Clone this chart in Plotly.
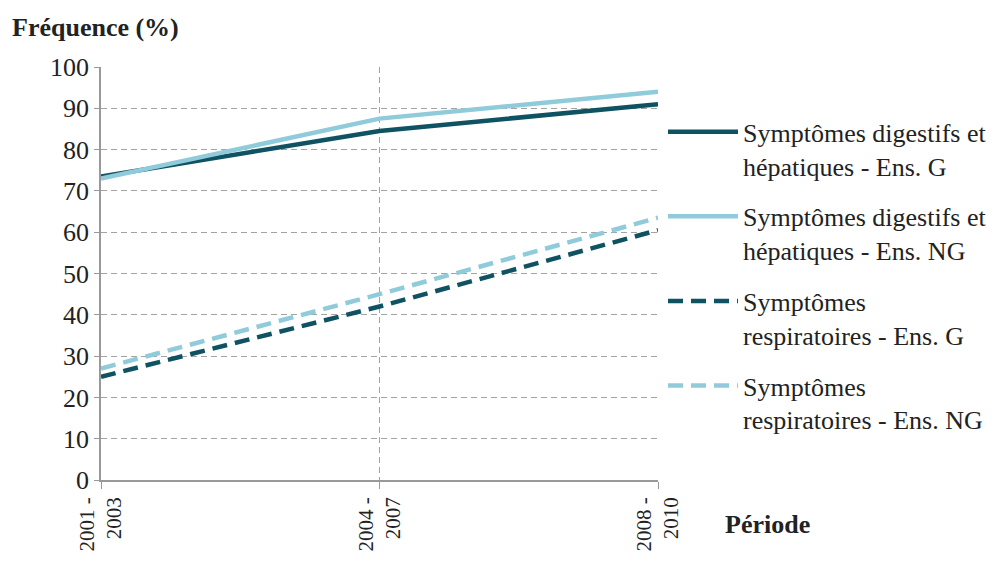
import plotly.graph_objects as go

periods = ["2001 -<br>2003", "2004 -<br>2007", "2008 -<br>2010"]
dig_g = [73.5, 84.5, 91.0]
dig_ng = [73.0, 87.5, 94.0]
resp_g = [25.0, 42.0, 60.5]
resp_ng = [27.0, 45.0, 63.5]
names = [
    "Symptômes digestifs et<br>hépatiques - Ens. G",
    "Symptômes digestifs et<br>hépatiques - Ens. NG",
    "Symptômes<br>respiratoires - Ens. G",
    "Symptômes<br>respiratoires - Ens. NG",
]

DARK = "#0F5262"
LIGHT = "#8FCBDA"
FONT = "Liberation Serif"
TXT = "#222222"

fig = go.Figure()
series = [(dig_g, DARK, "solid"), (dig_ng, LIGHT, "solid"),
          (resp_g, DARK, "15px,8px"), (resp_ng, LIGHT, "15px,8px")]
for i, (vals, col, dash) in enumerate(series):
    fig.add_trace(go.Scatter(
        x=periods, y=vals, mode="lines", name=names[i], legendgroup=f"g{i}",
        line=dict(color=col, width=4.5, dash=dash),
    ))

L, T, R, B = 93, 59, 346, 90
PW, PH = 996 - L - R, 562 - T - B

fig.update_layout(
    width=996, height=562,
    margin=dict(l=L, r=R, t=T, b=B),
    paper_bgcolor="white", plot_bgcolor="white",
    font=dict(family=FONT, size=26, color=TXT),
    showlegend=True,
    legend=dict(
        x=1.009, y=0.90, xanchor="left", yanchor="top",
        traceorder="grouped", tracegroupgap=14, itemwidth=70,
        valign="top", font=dict(family=FONT, size=26, color=TXT),
        bgcolor="rgba(0,0,0,0)",
    ),
    xaxis=dict(
        type="category", range=[0, 2], tickangle=-90, automargin=False,
        showline=True, linecolor="#999999", linewidth=1.5,
        showgrid=True, gridcolor="#A3A3A3", griddash="6px,4px", gridwidth=1,
        ticks="outside", ticklen=7, tickcolor="#999999",
        tickfont=dict(family=FONT, size=21, color=TXT),
        zeroline=False,
    ),
    yaxis=dict(
        range=[0, 100], dtick=10, automargin=False,
        showline=True, linecolor="#999999", linewidth=1.5,
        showgrid=True, gridcolor="#A3A3A3", griddash="6px,4px", gridwidth=1,
        ticks="outside", ticklen=5, tickcolor="#999999",
        tickfont=dict(family=FONT, size=26, color=TXT),
        zeroline=False,
    ),
    annotations=[
        dict(text="<b>Fréquence (%)</b>", xref="paper", yref="paper",
             x=(2 - L) / PW, y=(472 - 20) / PH, xanchor="left", yanchor="middle",
             showarrow=False, font=dict(family=FONT, size=26, color=TXT)),
        dict(text="<b>Période</b>", xref="paper", yref="paper",
             x=(759 - L) / PW, y=(472 - 516) / PH, xanchor="center", yanchor="middle",
             showarrow=False, font=dict(family=FONT, size=26, color=TXT)),
    ],
)

fig.write_html("out.html")
